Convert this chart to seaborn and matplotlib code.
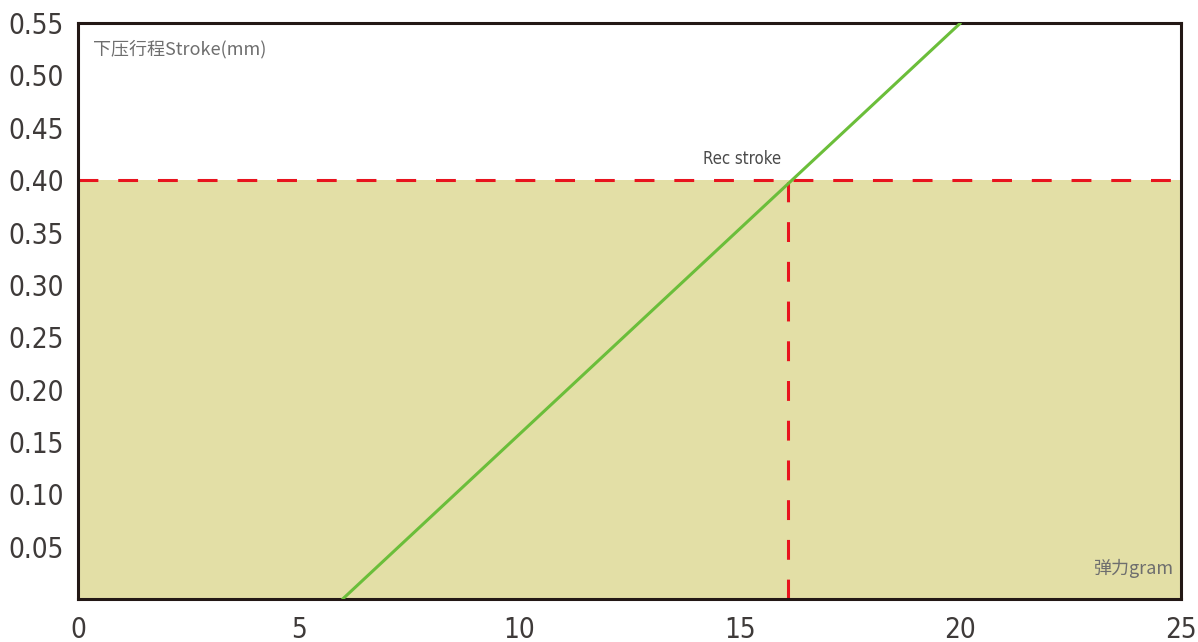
import matplotlib
matplotlib.use("Agg")
import matplotlib.pyplot as plt
import seaborn as sns
import pandas as pd

# data
force_gram = [6.0, 20.0]
stroke_mm = [0.0, 0.55]
rec_stroke = 0.40
rec_force = 16.1
x_ticks = [0, 5, 10, 15, 20, 25]
y_ticks = [0.05, 0.10, 0.15, 0.20, 0.25, 0.30, 0.35, 0.40, 0.45, 0.50, 0.55]
y_label = "下压行程Stroke(mm)"
x_label = "弹力gram"
rec_label = "Rec stroke"

sns.set_theme(style="white")
plt.rcParams['font.family'] = ['DejaVu Sans', 'Noto Sans CJK SC']

fig = plt.figure(figsize=(11.98, 6.42), dpi=100)
ax = fig.add_axes([0.0651, 0.067, 0.9207, 0.897])

dark = "#231815"
fill_c = "#E3DFA6"
green = "#6BBE3A"
red = "#E8141E"

ax.set_xlim(x_ticks[0], x_ticks[-1])
ax.set_ylim(0, y_ticks[-1])

ax.fill_between([x_ticks[0], x_ticks[-1]], 0, rec_stroke, color=fill_c, lw=0, zorder=0)

df = pd.DataFrame({"force": force_gram, "stroke": stroke_mm})
sns.lineplot(data=df, x="force", y="stroke", ax=ax, color=green, lw=2.2, zorder=3)

ax.plot([x_ticks[0], x_ticks[-1]], [rec_stroke, rec_stroke], color=red, lw=2.2,
        dashes=(6.5, 6.5), zorder=2)
ax.plot([rec_force, rec_force], [0, rec_stroke], color=red, lw=2.2,
        dashes=(6.5, 6.5), zorder=2)

ax.set_xticks(x_ticks)
ax.set_yticks(y_ticks)
ax.set_xticklabels([str(t) for t in x_ticks])
ax.set_yticklabels([f"{t:.2f}" for t in y_ticks])
ax.tick_params(axis="both", direction="in", length=12, width=2, color=dark,
               labelsize=20, labelcolor="#3E3A39")
ax.tick_params(axis="y", pad=10)
ax.tick_params(axis="x", pad=12)
for lab in ax.get_xticklabels() + ax.get_yticklabels():
    lab.set_family(['DejaVu Sans'])
    lab.set_stretch('condensed')

for s in ax.spines.values():
    s.set_color(dark)
    s.set_linewidth(2.2)
    s.set_visible(True)

ax.set_xlabel("")
ax.set_ylabel("")

ax.text(0.35, 0.5255, y_label, fontsize=13, color="#6E6E6E", va="center", ha="left",
        family=['Noto Sans CJK SC', 'DejaVu Sans'])
ax.text(24.85, 0.029, x_label, fontsize=13, color="#6E6E6E", va="center", ha="right",
        family=['Noto Sans CJK SC', 'DejaVu Sans'])
ax.text(rec_force - 1.05, 0.420, rec_label, fontsize=12, color="#4A4A4A", va="center", ha="center",
        family=['DejaVu Sans'], stretch='condensed')

fig.savefig("out.png", dpi=100, facecolor="white")
